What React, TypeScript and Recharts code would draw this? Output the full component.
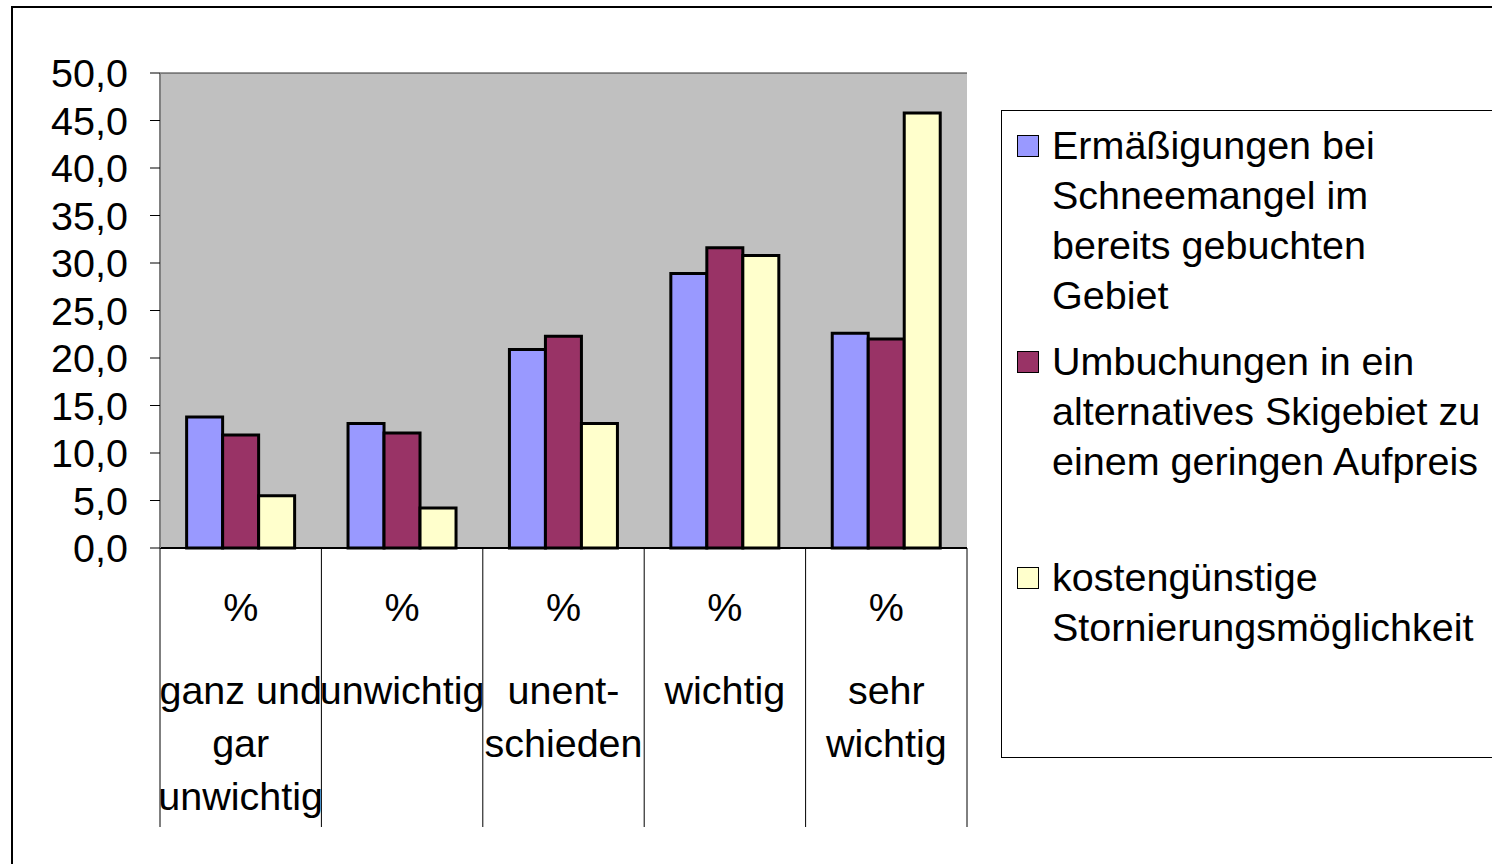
import { BarChart, Bar, XAxis, YAxis, CartesianGrid, Legend } from 'recharts';

const CATEGORIES = ['ganz und gar unwichtig', 'unwichtig', 'unentschieden', 'wichtig', 'sehr wichtig'];
const CATEGORY_LINES = [
  ['ganz und', 'gar', 'unwichtig'],
  ['unwichtig'],
  ['unent-', 'schieden'],
  ['wichtig'],
  ['sehr', 'wichtig'],
];
const ERMAESSIGUNG = [13.8, 13.1, 20.9, 28.9, 22.6];
const UMBUCHUNG = [11.9, 12.1, 22.3, 31.6, 22.0];
const STORNO = [5.5, 4.2, 13.1, 30.8, 45.8];
const Y_TICKS = [0, 5, 10, 15, 20, 25, 30, 35, 40, 45, 50];

const SERIES = [
  { key: 'erm', name: 'Ermäßigungen bei Schneemangel im bereits gebuchten Gebiet', color: '#9999FF', values: ERMAESSIGUNG },
  { key: 'umb', name: 'Umbuchungen in ein alternatives Skigebiet zu einem geringen Aufpreis', color: '#993366', values: UMBUCHUNG },
  { key: 'sto', name: 'kostengünstige Stornierungsmöglichkeit', color: '#FFFFCC', values: STORNO },
];
const LEGEND_LINES = [
  ['Ermäßigungen bei', 'Schneemangel im', 'bereits gebuchten', 'Gebiet'],
  ['Umbuchungen in ein', 'alternatives Skigebiet zu', 'einem geringen Aufpreis'],
  ['kostengünstige', 'Stornierungsmöglichkeit'],
];

const data = CATEGORIES.map((c, i) => {
  const row: Record<string, string | number> = { cat: c, idx: i };
  SERIES.forEach((s) => (row[s.key] = s.values[i]));
  return row;
});

const FONT = '"Liberation Sans", Arial, sans-serif';
const FONT_SIZE = 39.5;
const PLOT_LEFT = 160;
const PLOT_RIGHT = 967;
const BAND = (PLOT_RIGHT - PLOT_LEFT) / CATEGORIES.length;

function CategoryTick(props: any) {
  const { x, y, index } = props;
  const lines = CATEGORY_LINES[index] || [];
  return (
    <g>
      <line x1={x - BAND / 2} x2={x - BAND / 2} y1={y} y2={y + 279} stroke="#000" strokeWidth={1} />
      {index === CATEGORIES.length - 1 && (
        <line x1={x + BAND / 2} x2={x + BAND / 2} y1={y} y2={y + 279} stroke="#000" strokeWidth={1} />
      )}
      <text x={x} y={y + 59} textAnchor="middle" dominantBaseline="central" fontFamily={FONT} fontSize={FONT_SIZE} fill="#000">
        %
      </text>
      {lines.map((l, i) => (
        <text
          key={i}
          x={x}
          y={y + 142 + i * 53}
          textAnchor="middle"
          dominantBaseline="central"
          fontFamily={FONT}
          fontSize={FONT_SIZE}
          fill="#000"
        >
          {l}
        </text>
      ))}
    </g>
  );
}

function LegendBox(props: any) {
  const payload = props.payload || [];
  return (
    <div
      style={{
        boxSizing: 'border-box',
        width: 560,
        height: 648,
        border: '1px solid #000',
        background: '#fff',
        paddingTop: 9,
        fontFamily: FONT,
        fontSize: FONT_SIZE,
        color: '#000',
      }}
    >
      {payload.map((p: any, i: number) => (
        <div key={i} style={{ position: 'relative', height: 216 }}>
          <div
            style={{
              position: 'absolute',
              left: 15,
              top: 15,
              width: 20,
              height: 20,
              background: p.color,
              border: '1.5px solid #000',
            }}
          />
          <div style={{ position: 'absolute', left: 50, top: 0, lineHeight: '50px', whiteSpace: 'nowrap' }}>
            {(LEGEND_LINES[i] || []).map((l, j) => (
              <div key={j}>{l}</div>
            ))}
          </div>
        </div>
      ))}
    </div>
  );
}

export default function App() {
  return (
    <div style={{ position: 'absolute', left: 0, top: 0, width: 1492, height: 864, overflow: 'hidden', background: '#fff' }}>
      <div
        style={{
          position: 'absolute',
          left: 11,
          top: 6,
          width: 1500,
          height: 900,
          border: '2px solid #000',
        }}
      />
      <div style={{ position: 'absolute', left: 0, top: 0 }}>
        <BarChart
          width={1492}
          height={864}
          data={data}
          margin={{ top: 73, right: 525, bottom: 26, left: 10 }}
          barGap={0}
          barCategoryGap="16.5%"
        >
          <CartesianGrid vertical={false} fill="#C0C0C0" stroke="#333333" strokeWidth={1} />
          <XAxis
            dataKey="cat"
            height={290}
            interval={0}
            tickLine={false}
            tickSize={0}
            tickMargin={0}
            axisLine={{ stroke: '#000', strokeWidth: 2 }}
            tick={<CategoryTick />}
          />
          <YAxis
            yAxisId="left"
            width={150}
            domain={[0, 50]}
            ticks={Y_TICKS}
            interval={0}
            tickSize={10}
            tickMargin={22}
            tickFormatter={(v: number) => v.toFixed(1).replace('.', ',')}
            tick={{ fontFamily: FONT, fontSize: FONT_SIZE, fill: '#000' }}
            axisLine={{ stroke: '#808080', strokeWidth: 2 }}
            tickLine={{ stroke: '#000' }}
          />
          <YAxis
            yAxisId="right"
            orientation="right"
            width={0}
            domain={[0, 50]}
            tick={false}
            tickLine={false}
            axisLine={{ stroke: '#808080', strokeWidth: 3 }}
          />
          <Legend
            layout="vertical"
            align="center"
            verticalAlign="middle"
            content={<LegendBox />}
            wrapperStyle={{ position: 'absolute', left: 1001, top: 110, width: 560, height: 648 }}
          />
          {SERIES.map((s) => (
            <Bar
              key={s.key}
              yAxisId="left"
              dataKey={s.key}
              name={s.name}
              fill={s.color}
              stroke="#000"
              strokeWidth={3}
              isAnimationActive={false}
            />
          ))}
        </BarChart>
      </div>
    </div>
  );
}
